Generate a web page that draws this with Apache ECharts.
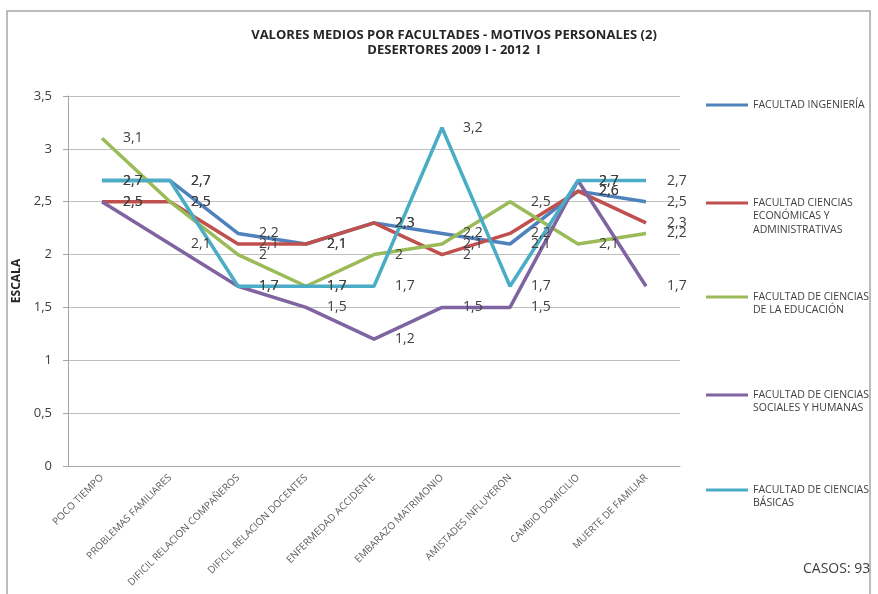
<!DOCTYPE html>
<html>
<head>
    <meta charset="utf-8">
    <title>Valores medios por facultades</title>
    <script src="https://cdn.jsdelivr.net/npm/echarts@6/dist/echarts.min.js"></script>
</head>
<body style="margin:0;background:#fff;">
<div id="main" style="width:878px;height:594px;"></div>
<script type="text/javascript">
    // categorias (motivos)
    var motivos = ["POCO TIEMPO", "PROBLEMAS FAMILIARES", "DIFICIL RELACION COMPAÑEROS", "DIFICIL RELACION DOCENTES",
        "ENFERMEDAD ACCIDENTE", "EMBARAZO MATRIMONIO", "AMISTADES INFLUYERON", "CAMBIO DOMICILIO", "MUERTE DE FAMILIAR"];

    // valores por facultad
    var ingenieria  = [2.7, 2.7, 2.2, 2.1, 2.3, 2.2, 2.1, 2.6, 2.5];
    var economicas  = [2.5, 2.5, 2.1, 2.1, 2.3, 2.0, 2.2, 2.6, 2.3];
    var educacion   = [3.1, 2.5, 2.0, 1.7, 2.0, 2.1, 2.5, 2.1, 2.2];
    var sociales    = [2.5, 2.1, 1.7, 1.5, 1.2, 1.5, 1.5, 2.7, 1.7];
    var basicas     = [2.7, 2.7, 1.7, 1.7, 1.7, 3.2, 1.7, 2.7, 2.7];

    var nombres = ["FACULTAD INGENIERÍA",
        "FACULTAD CIENCIAS\nECONÓMICAS Y\nADMINISTRATIVAS",
        "FACULTAD DE CIENCIAS\nDE LA EDUCACIÓN",
        "FACULTAD DE CIENCIAS\nSOCIALES Y HUMANAS",
        "FACULTAD DE CIENCIAS\nBÁSICAS"];
    var colores = ["#4F81BD", "#C0504D", "#9BBB59", "#8064A2", "#4BACC6"];
    var datos = [ingenieria, economicas, educacion, sociales, basicas];

    var coma = function (v) { return String(v).replace('.', ','); };

    var series = [];
    for (let i = 0; i < datos.length; i++) {
        series.push({
            name: nombres[i],
            type: 'line',
            data: datos[i],
            symbol: 'circle',
            symbolSize: 0.1,
            showSymbol: true,
            lineStyle: { width: 3.5, color: colores[i] },
            itemStyle: { color: colores[i] },
            label: {
                show: true,
                position: 'right',
                distance: 21,
                formatter: function (p) { return coma(p.value); },
                color: '#404040',
                fontSize: 14,
                fontFamily: 'Open Sans'
            }
        });
    }

    // una leyenda por facultad, para colocarlas como en el original
    var LH = 13.5;
    var iconY = [104, 202, 296, 394, 489];
    var legends = [];
    for (let i = 0; i < nombres.length; i++) {
        let n = nombres[i].split('\n').length;
        legends.push({
            data: [nombres[i]],
            left: 706,
            top: iconY[i] - (2 * n - 1) * LH / 2 + 1,
            padding: 0,
            icon: 'rect',
            itemWidth: 42,
            itemHeight: 3,
            itemGap: 5,
            selectedMode: false,
            // lineas vacias delante para que el icono quede a la altura de la primera linea
            formatter: function (name) {
                let k = name.split('\n').length - 1;
                return '\n'.repeat(k) + name;
            },
            textStyle: {
                fontSize: 10.5,
                fontFamily: 'Open Sans',
                color: '#404040',
                lineHeight: LH
            }
        });
    }

    var myChart = echarts.init(document.getElementById('main'));
    myChart.setOption({
        animation: false,
        title: [{
            text: 'VALORES MEDIOS POR FACULTADES - MOTIVOS PERSONALES (2)\nDESERTORES 2009 I - 2012  I',
            left: 449,
            top: 23,
            textAlign: 'center',
            textStyle: { fontSize: 13, fontWeight: 'bold', fontFamily: 'Open Sans', color: '#262626', lineHeight: 15 }
        }, {
            text: 'CASOS: 93',
            left: 798,
            top: 557,
            textStyle: { fontSize: 14, fontWeight: 'normal', fontFamily: 'Open Sans', color: '#404040' }
        }],
        legend: legends,
        graphic: [{
            type: 'rect',
            shape: { x: 7, y: 11, width: 863, height: 620 },
            style: { fill: 'none', stroke: '#a6a6a6', lineWidth: 1.5 },
            silent: true
        }],
        grid: { left: 68, right: 198, top: 96, bottom: 128 },
        xAxis: {
            type: 'category',
            data: motivos,
            boundaryGap: true,
            axisLine: { lineStyle: { color: '#a6a6a6' } },
            axisTick: { show: false },
            axisLabel: { rotate: 45, fontSize: 10, color: '#595959', fontFamily: 'Open Sans', margin: 10, interval: 0 }
        },
        yAxis: {
            type: 'value',
            min: 0,
            max: 3.5,
            interval: 0.5,
            name: 'ESCALA',
            nameLocation: 'middle',
            nameGap: 44,
            nameTextStyle: { fontSize: 12, fontWeight: 'bold', fontFamily: 'Open Sans', color: '#262626' },
            axisLine: { show: true, lineStyle: { color: '#a6a6a6' } },
            axisTick: { show: true, length: 5, lineStyle: { color: '#a6a6a6' } },
            splitLine: { lineStyle: { color: '#bfbfbf' } },
            axisLabel: { formatter: coma, fontSize: 13, color: '#404040', fontFamily: 'Open Sans', margin: 16 }
        },
        series: series
    });
</script>
</body>
</html>
